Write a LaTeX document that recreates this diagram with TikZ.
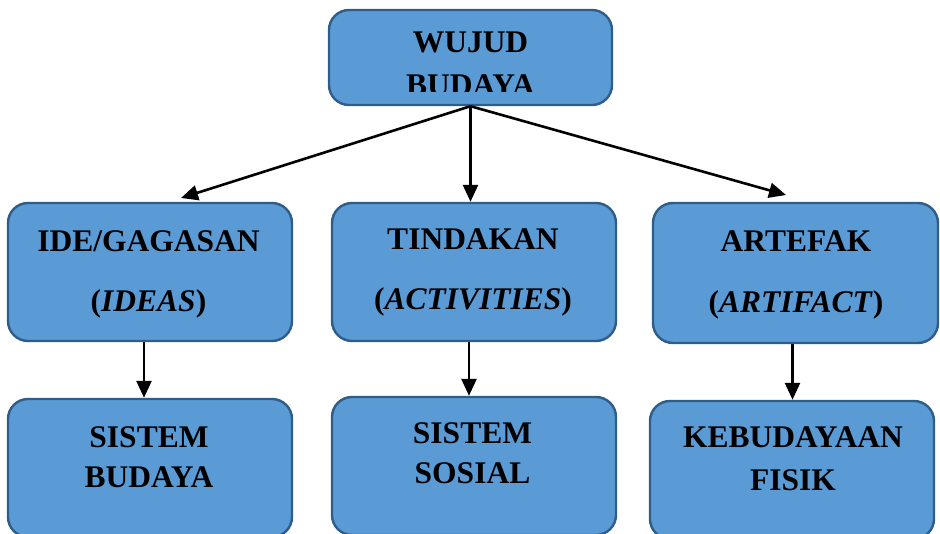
\documentclass[tikz,border=0pt]{standalone}
\usepackage{fontspec}
\setmainfont{Liberation Serif}
\usetikzlibrary{arrows.meta}
\definecolor{boxfill}{HTML}{5B9BD5}
\definecolor{boxline}{HTML}{2F5D8A}
\tikzset{
  box/.style={draw=boxline, line width=2.4pt, fill=boxfill, rounded corners=20pt, inner sep=0pt},
  lbl/.style={anchor=base, inner sep=0pt, font=\bfseries\fontsize{31.5}{38}\selectfont},
  arr/.style={line width=2.6pt, -{Triangle[length=17pt,width=15pt]}}
}
\begin{document}
\begin{tikzpicture}[x=1pt,y=-1pt]
\useasboundingbox (0,0) rectangle (940,534);
\clip (0,0) rectangle (940,534);
% boxes
\node[box, minimum width=283pt, minimum height=95pt] (top) at (470.5,57.5) {};
\node[box, minimum width=284pt, minimum height=138pt] (L) at (150,272) {};
\node[box, minimum width=284pt, minimum height=138pt] (M) at (474,272) {};
\node[box, minimum width=285pt, minimum height=140pt] (R) at (795.5,273) {};
\node[box, minimum width=284pt, minimum height=138pt] (BL) at (150,468) {};
\node[box, minimum width=284pt, minimum height=138pt] (BM) at (474,466) {};
\node[box, minimum width=284pt, minimum height=138pt] (BR) at (792,470) {};
% texts
\begin{scope}
\clip (329,10) rectangle (612,92);
\node[lbl] (t1) at (470.5,53) {WUJUD};
\node[lbl] (t2) at (470.5,96) {BUDAYA};
\end{scope}
\node[lbl] (l1) at (148.5,252) {IDE/GAGASAN};
\node[lbl] (l2) at (148.5,312) {(\textit{IDEAS})};
\node[lbl] (m1) at (473,250) {TINDAKAN};
\node[lbl] (m2) at (473,310) {(\textit{ACTIVITIES})};
\node[lbl] (r1) at (796,252) {ARTEFAK};
\node[lbl] (r2) at (796,313) {(\textit{ARTIFACT})};
\node[lbl] (bl1) at (149,447) {SISTEM};
\node[lbl] (bl2) at (149,487) {BUDAYA};
\node[lbl] (bm1) at (472.5,444) {SISTEM};
\node[lbl] (bm2) at (472.5,483) {SOSIAL};
\node[lbl] (br1) at (793,448) {KEBUDAYAAN};
\node[lbl] (br2) at (793,490) {FISIK};
% connectors
\coordinate (tL) at (181,198);
\coordinate (tR) at (786,195);
\draw[arr] (top.south) -- (tL);
\draw[arr] (top.south) -- (top.south |- M.north);
\draw[arr] (top.south) -- (tR);
\draw[arr] ([xshift=-6pt]L.south) -- ([xshift=-6pt]L.south |- BL.north);
\draw[arr] ([xshift=-5pt]M.south) -- ([xshift=-5pt]M.south |- BM.north);
\draw[arr] ([xshift=-3pt]R.south) -- ([xshift=-3pt]R.south |- BR.north);
\end{tikzpicture}
\end{document}
